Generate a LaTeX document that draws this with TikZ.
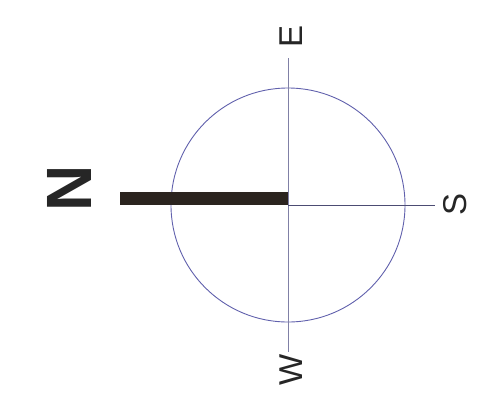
\documentclass[tikz,border=0pt]{standalone}
\usepackage{fontspec}
\setmainfont{Liberation Sans}
\begin{document}
\begin{tikzpicture}[x=1pt,y=-1pt,
  lbl/.style={rotate=90,inner sep=0pt,text=black!85,font=\fontsize{33}{33}\selectfont},
  nlbl/.style={rotate=90,inner sep=0pt,text=black!85,font=\fontsize{64}{64}\selectfont\bfseries},
  ring/.style={draw={rgb,1:red,0.38;green,0.38;blue,0.68},line width=0.9pt},
  vline/.style={draw={rgb,1:red,0.5;green,0.5;blue,0.65},line width=0.9pt},
  hline/.style={draw={rgb,1:red,0.3;green,0.3;blue,0.45},line width=0.9pt},
  bar/.style={fill={rgb,1:red,0.17;green,0.14;blue,0.12}}]
\useasboundingbox[fill=white] (0,0) rectangle (487,408);
\coordinate (c) at (288,205);
\coordinate (top) at (288,58);
\coordinate (bot) at (288,352);
\coordinate (right) at (435,205);
\coordinate (barL) at (120,192);
\draw[ring] (c) circle[radius=117];
\draw[vline] (top) -- (bot);
\draw[hline] (c) -- (right);
\path[bar] (barL) rectangle (c);
\node[lbl] (E) at (291,36.5) {E};
\node[lbl] (S) at (455.5,204) {S};
\node[lbl] (W) at (291,370) {W};
\node[nlbl] (N) at (69,188.5) {N};
\end{tikzpicture}
\end{document}
